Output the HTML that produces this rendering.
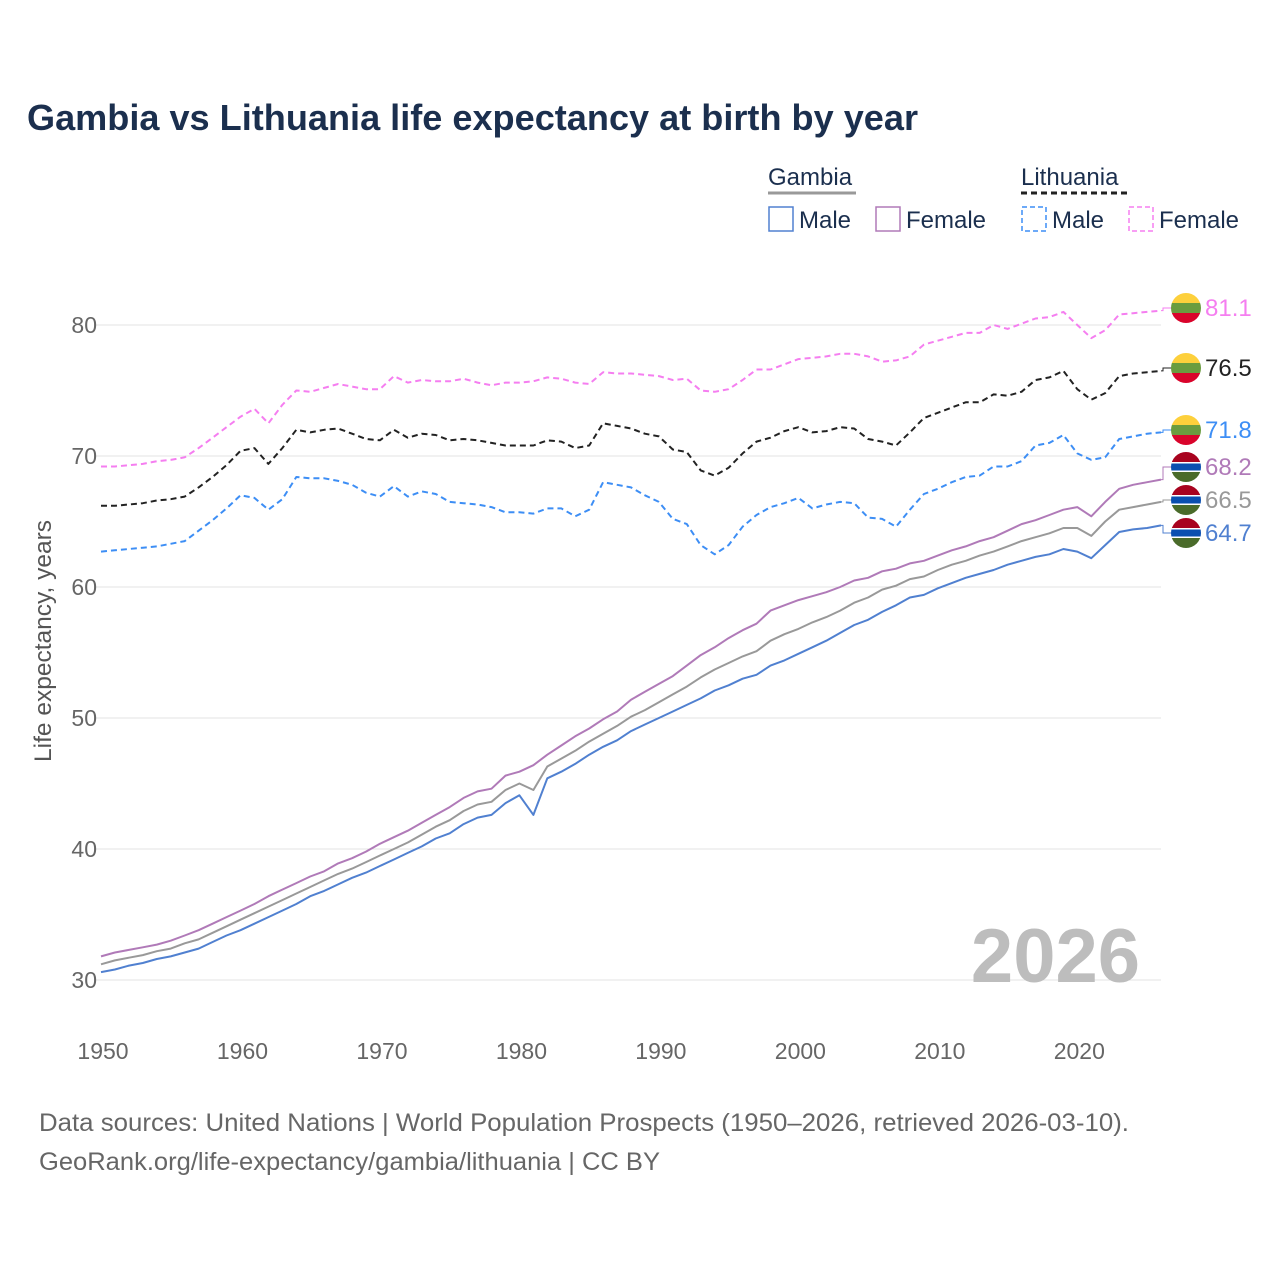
<!DOCTYPE html>
<html><head><meta charset="utf-8">
<style>
body{margin:0;background:#fff;font-family:"Liberation Sans",sans-serif;}
svg text{font-family:"Liberation Sans",sans-serif;}
</style></head>
<body>
<svg id="chart" width="1280" height="1280" viewBox="0 0 1280 1280" xmlns="http://www.w3.org/2000/svg">
<rect width="1280" height="1280" fill="#fff"/>
<text x="27" y="130" font-size="36" font-weight="bold" fill="#1b2f4e" textLength="891" lengthAdjust="spacingAndGlyphs">Gambia vs Lithuania life expectancy at birth by year</text>
<g font-size="24" fill="#1b2f4e">
  <text x="768" y="185" fill="#1b2f4e">Gambia</text>
  <line x1="768" y1="193" x2="856" y2="193" stroke="#999" stroke-width="3"/>
  <text x="1021" y="185" fill="#1b2f4e">Lithuania</text>
  <line x1="1021" y1="193" x2="1128" y2="193" stroke="#222" stroke-width="3" stroke-dasharray="6,4"/>
  <g><rect x="769" y="207" width="24" height="24" fill="none" stroke="#5080d0" stroke-width="1.5"/><text x="799" y="228">Male</text></g>
  <g><rect x="876" y="207" width="24" height="24" fill="none" stroke="#b07ab8" stroke-width="1.5"/><text x="906" y="228">Female</text></g>
  <g><rect x="1022" y="207" width="24" height="24" fill="none" stroke="#3d8ef5" stroke-width="1.5" stroke-dasharray="5,3"/><text x="1052" y="228">Male</text></g>
  <g><rect x="1129" y="207" width="24" height="24" fill="none" stroke="#f57ef0" stroke-width="1.5" stroke-dasharray="5,3"/><text x="1159" y="228">Female</text></g>
</g>
<g id="grid"></g>
<g id="series"></g>
<g id="labels"></g>
<text transform="translate(51,641) rotate(-90)" text-anchor="middle" font-size="24" fill="#555" textLength="242" lengthAdjust="spacingAndGlyphs">Life expectancy, years</text>
<text x="1140" y="982" text-anchor="end" font-size="76" font-weight="bold" fill="#bdbdbd">2026</text>
<text x="39" y="1131" font-size="25" fill="#666" textLength="1090" lengthAdjust="spacingAndGlyphs">Data sources: United Nations | World Population Prospects (1950–2026, retrieved 2026-03-10).</text>
<text x="39" y="1170" font-size="25" fill="#666" textLength="621" lengthAdjust="spacingAndGlyphs">GeoRank.org/life-expectancy/gambia/lithuania | CC BY</text>
</svg>
<script>
const years=[];for(let y=1950;y<=2026;y++)years.push(y);
const xTicks=[1950,1960,1970,1980,1990,2000,2010,2020];
const yTicks=[30,40,50,60,70,80];
const gambiaMale=[30.6,30.8,31.1,31.3,31.6,31.8,32.1,32.4,32.9,33.4,33.8,34.3,34.8,35.3,35.8,36.4,36.8,37.3,37.8,38.2,38.7,39.2,39.7,40.2,40.8,41.2,41.9,42.4,42.6,43.5,44.1,42.6,45.4,45.9,46.5,47.2,47.8,48.3,49.0,49.5,50.0,50.5,51.0,51.5,52.1,52.5,53.0,53.3,54.0,54.4,54.9,55.4,55.9,56.5,57.1,57.5,58.1,58.6,59.2,59.4,59.9,60.3,60.7,61.0,61.3,61.7,62.0,62.3,62.5,62.9,62.7,62.2,63.2,64.2,64.4,64.5,64.7];
const gambiaTotal=[31.2,31.5,31.7,31.9,32.2,32.4,32.8,33.1,33.6,34.1,34.6,35.1,35.6,36.1,36.6,37.1,37.6,38.1,38.5,39.0,39.5,40.0,40.5,41.1,41.7,42.2,42.9,43.4,43.6,44.5,45.0,44.5,46.3,46.9,47.5,48.2,48.8,49.4,50.1,50.6,51.2,51.8,52.4,53.1,53.7,54.2,54.7,55.1,55.9,56.4,56.8,57.3,57.7,58.2,58.8,59.2,59.8,60.1,60.6,60.8,61.3,61.7,62.0,62.4,62.7,63.1,63.5,63.8,64.1,64.5,64.5,63.9,65.0,65.9,66.1,66.3,66.5];
const gambiaFemale=[31.8,32.1,32.3,32.5,32.7,33.0,33.4,33.8,34.3,34.8,35.3,35.8,36.4,36.9,37.4,37.9,38.3,38.9,39.3,39.8,40.4,40.9,41.4,42.0,42.6,43.2,43.9,44.4,44.6,45.6,45.9,46.4,47.2,47.9,48.6,49.2,49.9,50.5,51.4,52.0,52.6,53.2,54.0,54.8,55.4,56.1,56.7,57.2,58.2,58.6,59.0,59.3,59.6,60.0,60.5,60.7,61.2,61.4,61.8,62.0,62.4,62.8,63.1,63.5,63.8,64.3,64.8,65.1,65.5,65.9,66.1,65.4,66.5,67.5,67.8,68.0,68.2];
const lithFemale=[69.2,69.2,69.3,69.4,69.6,69.7,69.9,70.6,71.4,72.2,73.0,73.6,72.5,73.9,75.0,74.9,75.2,75.5,75.3,75.1,75.1,76.1,75.6,75.8,75.7,75.7,75.9,75.6,75.4,75.6,75.6,75.7,76.0,75.9,75.6,75.5,76.4,76.3,76.3,76.2,76.1,75.8,75.9,75.0,74.9,75.1,75.8,76.6,76.6,77.0,77.4,77.5,77.6,77.8,77.8,77.6,77.2,77.3,77.6,78.5,78.8,79.1,79.4,79.4,80.0,79.7,80.1,80.5,80.6,81.0,80.0,79.0,79.6,80.8,80.9,81.0,81.1];
const lithTotal=[66.2,66.2,66.3,66.4,66.6,66.7,66.9,67.6,68.4,69.3,70.4,70.6,69.4,70.6,72.0,71.8,72.0,72.1,71.7,71.3,71.2,72.0,71.4,71.7,71.6,71.2,71.3,71.2,71.0,70.8,70.8,70.8,71.2,71.1,70.6,70.8,72.5,72.3,72.1,71.7,71.5,70.5,70.3,68.9,68.5,69.1,70.2,71.1,71.4,71.9,72.2,71.8,71.9,72.2,72.1,71.3,71.1,70.8,71.8,72.9,73.3,73.7,74.1,74.1,74.7,74.6,74.9,75.8,76.0,76.5,75.1,74.3,74.8,76.1,76.3,76.4,76.5];
const lithMale=[62.7,62.8,62.9,63.0,63.1,63.3,63.5,64.3,65.1,66.0,67.0,66.8,65.9,66.7,68.4,68.3,68.3,68.1,67.8,67.2,66.9,67.7,66.9,67.3,67.1,66.5,66.4,66.3,66.1,65.7,65.7,65.6,66.0,66.0,65.4,65.9,68.0,67.8,67.6,67.0,66.5,65.2,64.8,63.2,62.5,63.2,64.6,65.5,66.1,66.4,66.8,66.0,66.3,66.5,66.4,65.3,65.2,64.6,65.9,67.1,67.5,68.0,68.4,68.5,69.2,69.2,69.6,70.8,71.0,71.6,70.2,69.7,69.9,71.3,71.5,71.7,71.8];

const NS="http://www.w3.org/2000/svg";
const X0=101,X1=1161,Y30=980,Y80=325;
const xs=y=>X0+(y-1950)*(X1-X0)/76;
const ys=v=>Y30-(v-30)*(Y30-Y80)/50;
function mk(tag,attrs,parent){const e=document.createElementNS(NS,tag);for(const k in attrs)e.setAttribute(k,attrs[k]);parent.appendChild(e);return e;}
const grid=document.getElementById('grid');
yTicks.forEach(v=>{
  const l=mk('line',{x1:95,x2:X1,y1:ys(v),y2:ys(v),stroke:'#e3e3e3','stroke-width':1},grid);
  
  
  const t=mk('text',{x:97,y:ys(v)+8,'text-anchor':'end','font-size':23,fill:'#666'},grid);
  t.textContent=v;
  
  
});
xTicks.forEach(yr=>{
  const t=mk('text',{x:xs(yr)+2,y:1059,'text-anchor':'middle','font-size':23,fill:'#666'},grid);
  t.textContent=yr;
  
  
});
const series=[
 {name:'lithuania-female',d:lithFemale,c:'#f57ef0',dash:'6,4',ly:308,flag:'lt'},
 {name:'lithuania-total',d:lithTotal,c:'#222',dash:'6,4',ly:368,flag:'lt'},
 {name:'lithuania-male',d:lithMale,c:'#3d8ef5',dash:'6,4',ly:430,flag:'lt'},
 {name:'gambia-female',d:gambiaFemale,c:'#b07ab8',dash:'',ly:467,flag:'gm'},
 {name:'gambia-total',d:gambiaTotal,c:'#999',dash:'',ly:500,flag:'gm'},
 {name:'gambia-male',d:gambiaMale,c:'#5080d0',dash:'',ly:533,flag:'gm'}
];
const sg=document.getElementById('series'),lg=document.getElementById('labels');
series.forEach(s=>{
  const pts=s.d.map((v,i)=>xs(years[i]).toFixed(1)+','+ys(v).toFixed(1)).join(' ');
  const p=mk('polyline',{points:pts,fill:'none',stroke:s.c,'stroke-width':2,'stroke-dasharray':s.dash,'stroke-linejoin':'round'},sg);
  
  
  const last=s.d[s.d.length-1],ey=ys(last);
  const c=mk('polyline',{points:`${X1},${ey} 1163,${ey} 1163,${s.ly} 1172,${s.ly}`,fill:'none',stroke:s.c,'stroke-width':1},lg);
  
  
  const fg=mk('g',{},lg);
  
  
  const cx=1186,cy=s.ly,r=15,id='clip'+s.name;
  const cp=mk('clipPath',{id:id},fg);mk('circle',{cx:cx,cy:cy,r:r},cp);
  const g2=mk('g',{'clip-path':`url(#${id})`},fg);
  if(s.flag==='lt'){
    mk('rect',{x:cx-r,y:cy-r,width:30,height:10,fill:'#fdd03c'},g2);
    mk('rect',{x:cx-r,y:cy-5,width:30,height:10,fill:'#6a9c3f'},g2);
    mk('rect',{x:cx-r,y:cy+5,width:30,height:10,fill:'#d9042b'},g2);
  }else{
    mk('rect',{x:cx-r,y:cy-r,width:30,height:10,fill:'#a8031f'},g2);
    mk('rect',{x:cx-r,y:cy-5,width:30,height:10,fill:'#fff'},g2);
    mk('rect',{x:cx-r,y:cy-3.5,width:30,height:7,fill:'#0a4fb0'},g2);
    mk('rect',{x:cx-r,y:cy+5,width:30,height:10,fill:'#4a6b2a'},g2);
  }
  const t=mk('text',{x:1205,y:s.ly+8,'font-size':24,fill:s.c},lg);
  t.textContent=last.toFixed(1);
  
  
});
</script>
</body></html>
